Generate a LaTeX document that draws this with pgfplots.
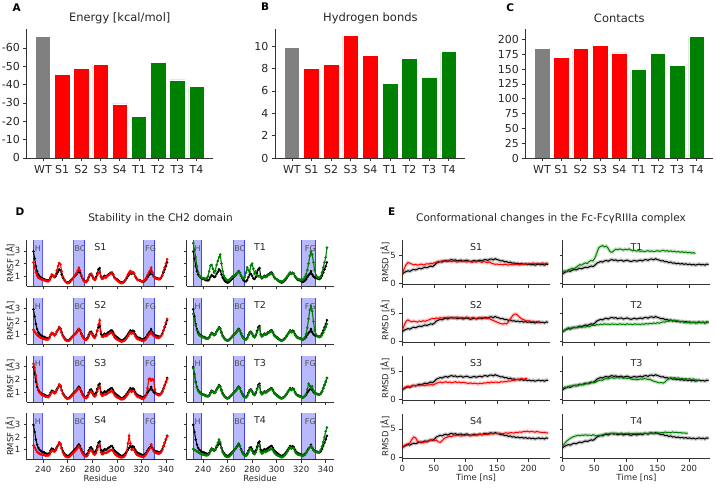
\documentclass[border=0pt]{standalone}
\usepackage{fontspec}
\setmainfont{DejaVu Sans}
\usepackage{pgfplots}
\usepackage{pgfplotstable}
\pgfplotsset{compat=1.18}
\definecolor{mgray}{HTML}{808080}
\definecolor{mred}{HTML}{FF0000}
\definecolor{mgreen}{HTML}{008000}
\definecolor{txt}{HTML}{262626}

\pgfplotstableread{
r WT S1 S2 S3 S4 T1 T2 T3 T4
232 2.95 2.10 1.35 3.20 1.35 3.60 2.60 2.85 1.05
233 2.40 1.70 1.20 2.90 1.20 3.10 2.20 2.35 1.00
234 1.80 1.30 1.05 2.30 1.00 2.50 1.70 1.75 0.95
235 1.40 1.05 0.95 1.60 0.85 1.80 1.30 1.35 0.88
236 1.15 0.90 0.85 1.20 0.75 1.30 1.05 1.10 0.80
237 1.00 0.85 0.78 0.95 0.70 1.05 0.92 0.95 0.75
238 0.92 0.80 0.72 0.85 0.65 0.95 0.85 0.88 0.70
239 0.85 0.75 0.68 0.78 0.62 0.90 0.80 0.82 0.66
240 0.80 0.72 0.65 0.72 0.60 0.85 0.75 0.78 0.62
241 0.78 0.70 0.62 0.70 0.58 0.85 0.72 0.75 0.60
242 0.72 0.65 0.60 0.65 0.55 0.82 0.68 0.70 0.58
243 0.70 0.62 0.58 0.62 0.55 0.85 0.65 0.68 0.56
244 0.68 0.62 0.60 0.60 0.55 1.00 0.65 0.66 0.58
245 0.75 0.70 0.70 0.68 0.62 1.40 0.75 0.72 0.68
246 0.95 0.90 0.95 0.85 0.80 1.85 0.95 0.90 0.90
247 1.10 1.15 1.10 1.00 0.95 1.90 1.05 1.05 1.05
248 1.05 1.05 1.00 0.98 0.92 1.60 1.00 1.00 1.00
249 0.95 0.95 0.90 0.90 0.85 1.30 0.92 0.92 0.92
250 1.00 1.10 1.00 0.95 0.95 1.45 1.00 0.98 1.05
251 1.20 1.45 1.20 1.15 1.15 1.90 1.20 1.18 1.30
252 1.35 1.80 1.35 1.35 1.35 2.20 1.35 1.32 1.55
253 1.55 2.05 1.55 1.60 1.58 2.50 1.50 1.50 1.80
254 1.45 1.95 1.40 1.50 1.45 2.70 1.40 1.40 1.60
255 1.15 1.40 1.10 1.15 1.10 2.00 1.10 1.10 1.15
256 0.90 1.00 0.85 0.88 0.80 1.40 0.85 0.85 0.82
257 0.75 0.75 0.68 0.70 0.62 1.05 0.70 0.70 0.65
258 0.62 0.60 0.55 0.58 0.50 0.85 0.58 0.58 0.52
259 0.55 0.50 0.50 0.50 0.45 0.75 0.52 0.52 0.46
260 0.52 0.48 0.48 0.48 0.42 0.70 0.50 0.50 0.44
261 0.55 0.50 0.50 0.50 0.45 0.72 0.52 0.52 0.46
262 0.65 0.60 0.60 0.58 0.52 0.80 0.62 0.62 0.55
263 0.75 0.72 0.72 0.68 0.62 0.90 0.72 0.72 0.65
264 0.85 0.85 0.82 0.78 0.72 1.00 0.82 0.82 0.78
265 0.95 0.95 0.92 0.88 0.82 1.05 0.92 0.92 0.90
266 1.05 1.10 1.00 0.98 0.92 1.10 1.02 1.02 1.05
267 1.15 1.25 1.10 1.08 1.02 1.20 1.12 1.12 1.20
268 1.30 1.45 1.25 1.20 1.15 1.30 1.25 1.25 1.35
269 1.42 1.68 1.40 1.32 1.28 1.35 1.35 1.38 1.50
270 1.30 1.45 1.25 1.20 1.15 1.25 1.25 1.25 1.30
271 1.05 1.10 1.00 0.98 0.92 1.05 1.00 1.00 1.00
272 0.85 0.85 0.80 0.78 0.72 0.90 0.80 0.80 0.78
273 0.70 0.65 0.65 0.62 0.58 0.85 0.68 0.66 0.62
274 0.62 0.58 0.58 0.55 0.50 0.95 0.60 0.60 0.55
275 0.60 0.55 0.55 0.52 0.48 1.30 0.58 0.58 0.52
276 0.72 0.68 0.65 0.62 0.55 1.70 0.70 0.70 0.62
277 0.95 0.90 0.85 0.82 0.75 1.50 0.90 0.92 0.82
278 1.15 1.10 1.05 1.00 0.92 1.35 1.10 1.10 1.00
279 1.20 1.20 1.10 1.05 0.98 1.85 1.15 1.15 1.05
280 1.05 1.00 0.95 0.90 0.85 2.00 1.00 1.00 0.90
281 0.85 0.80 0.78 0.72 0.68 1.60 0.82 0.82 0.72
282 0.80 0.72 0.72 0.65 0.62 1.20 0.75 0.76 0.66
283 0.95 0.85 0.90 0.78 0.75 1.40 0.90 0.90 0.80
284 1.25 1.10 1.30 1.05 1.00 1.10 1.15 1.20 1.05
285 1.55 1.25 1.75 1.30 1.25 1.00 1.40 1.45 1.30
286 1.65 1.35 2.10 1.40 1.35 1.05 1.50 1.50 1.35
287 1.00 0.95 1.20 0.85 0.80 0.95 0.95 0.95 0.85
288 0.85 0.80 0.80 0.70 0.65 0.90 0.82 0.82 0.70
289 0.95 0.85 0.80 0.75 0.70 0.95 0.90 0.90 0.78
290 1.05 0.95 0.90 0.85 0.80 1.00 1.00 1.00 0.88
291 1.00 0.90 0.85 0.80 0.75 0.95 0.95 0.95 0.82
292 1.05 1.00 0.90 0.85 0.80 1.00 1.00 1.00 0.88
293 1.15 1.10 1.00 0.95 0.88 1.10 1.10 1.10 0.95
294 1.20 1.15 1.05 1.00 0.92 1.15 1.15 1.15 1.00
295 1.28 1.20 1.10 1.05 0.98 1.20 1.22 1.22 1.05
296 1.30 1.25 1.10 1.08 1.00 1.22 1.25 1.25 1.08
297 1.15 1.10 0.95 0.95 0.88 1.10 1.10 1.10 0.95
298 0.95 0.90 0.78 0.78 0.72 0.92 0.90 0.90 0.78
299 0.85 0.80 0.68 0.68 0.62 0.82 0.80 0.80 0.68
300 0.78 0.70 0.60 0.60 0.55 0.75 0.72 0.72 0.60
301 0.70 0.62 0.55 0.55 0.50 0.70 0.65 0.65 0.55
302 0.62 0.55 0.50 0.50 0.45 0.65 0.58 0.58 0.50
303 0.55 0.50 0.45 0.45 0.42 0.62 0.52 0.52 0.45
304 0.52 0.48 0.42 0.42 0.40 0.60 0.50 0.50 0.42
305 0.55 0.50 0.45 0.45 0.42 0.62 0.52 0.52 0.45
306 0.62 0.60 0.50 0.50 0.48 0.70 0.60 0.60 0.52
307 0.72 0.75 0.58 0.60 0.60 0.80 0.70 0.70 0.62
308 0.85 0.95 0.70 0.72 0.90 0.92 0.82 0.82 0.75
309 1.00 1.15 0.85 0.85 1.50 1.05 0.98 0.98 0.90
310 1.15 1.30 1.00 1.00 2.10 1.20 1.12 1.12 1.05
311 1.30 1.42 1.15 1.12 1.50 1.30 1.25 1.25 1.20
312 1.20 1.30 1.05 1.02 1.00 1.22 1.15 1.15 1.10
313 1.28 1.35 1.10 1.10 1.05 1.28 1.22 1.22 1.15
314 1.22 1.25 1.05 1.05 1.00 1.20 1.15 1.18 1.10
315 1.00 1.00 0.85 0.85 0.80 1.00 0.95 0.95 0.88
316 0.85 0.82 0.70 0.70 0.65 0.88 0.80 0.80 0.72
317 0.75 0.72 0.62 0.62 0.58 0.80 0.72 0.72 0.65
318 0.72 0.70 0.60 0.60 0.55 0.78 0.70 0.68 0.62
319 0.68 0.68 0.55 0.55 0.50 0.75 0.65 0.64 0.58
320 0.62 0.62 0.50 0.50 0.48 0.72 0.60 0.60 0.55
321 0.58 0.60 0.48 0.48 0.45 0.72 0.58 0.56 0.52
322 0.60 0.65 0.50 0.50 0.48 0.80 0.62 0.60 0.55
323 0.68 0.75 0.55 0.60 0.55 0.95 0.75 0.70 0.62
324 0.78 0.90 0.65 0.80 0.68 1.15 1.00 0.85 0.75
325 0.95 1.10 0.80 1.30 0.85 1.50 1.50 1.20 0.92
326 1.10 1.30 0.95 2.00 1.00 2.00 2.20 1.65 1.10
327 1.20 1.45 1.05 2.05 1.15 2.60 2.90 1.50 1.20
328 1.40 1.68 1.15 1.90 1.40 2.95 3.20 1.30 1.30
329 1.15 1.30 1.00 2.00 1.10 2.70 2.80 1.45 1.15
330 1.00 1.05 0.88 1.95 0.90 2.10 2.00 1.10 0.98
331 0.92 0.90 0.80 1.20 0.80 1.50 1.30 0.92 0.88
332 0.88 0.82 0.75 0.85 0.75 1.10 1.00 0.85 0.82
333 0.85 0.80 0.72 0.78 0.72 0.95 0.85 0.82 0.80
334 0.82 0.78 0.72 0.75 0.70 0.90 0.80 0.80 0.80
335 0.80 0.80 0.75 0.75 0.72 0.90 0.78 0.80 0.85
336 0.88 0.90 0.85 0.85 0.80 1.00 0.82 0.88 1.00
337 1.05 1.10 1.00 1.00 0.98 1.30 0.95 1.05 1.25
338 1.30 1.40 1.30 1.25 1.25 1.70 1.15 1.30 1.60
339 1.55 1.70 1.60 1.50 1.55 2.10 1.35 1.55 2.00
340 1.80 2.00 1.90 1.75 1.85 2.50 1.55 1.80 2.45
341 2.10 2.35 2.20 2.00 2.05 3.25 1.80 2.10 2.75
}\rmsf

\pgfplotstableread{
t WT S1 S2 S3 S4 T1 T2 T3 T4
0 1.65 1.60 1.90 1.75 1.80 2.00 1.55 2.00 1.90
3 1.90 2.60 2.80 2.00 2.00 2.20 1.90 2.15 2.40
6 2.05 3.30 3.50 2.20 2.20 2.10 2.15 2.10 2.80
9 2.20 3.70 3.75 2.30 2.35 2.35 2.35 2.25 3.05
12 2.10 3.55 3.55 2.20 2.50 2.50 2.25 2.35 3.30
15 2.30 3.40 3.40 2.35 3.10 2.65 2.40 2.30 3.50
18 2.45 3.25 3.55 2.45 3.55 2.55 2.30 2.45 3.65
21 2.35 3.35 3.45 2.35 3.40 2.80 2.45 2.50 3.75
24 2.50 3.20 3.35 2.50 2.80 3.05 2.35 2.40 3.85
27 2.65 3.30 3.55 2.40 2.60 3.30 2.50 2.55 3.80
30 2.55 3.40 3.45 2.55 2.70 3.20 2.40 2.65 3.90
33 2.70 3.25 3.60 2.45 2.55 3.45 2.55 2.55 3.85
36 2.85 3.35 3.50 2.40 2.70 3.60 2.45 2.70 3.95
39 2.75 3.45 3.65 2.55 2.65 3.50 2.60 2.80 3.85
42 2.90 3.40 3.75 2.50 2.85 3.85 2.50 2.75 3.90
45 3.05 3.55 3.90 2.60 2.95 4.05 2.70 2.90 3.80
48 2.95 3.50 4.00 2.50 3.05 3.95 2.80 3.00 3.95
51 3.20 3.65 3.95 2.65 2.90 4.50 2.75 2.95 3.85
54 3.55 3.75 4.10 2.80 3.00 5.40 2.90 3.15 3.75
57 3.70 3.90 4.00 2.95 2.70 6.30 2.85 3.30 3.85
60 3.85 3.80 4.15 3.05 2.60 6.55 3.00 3.40 3.80
63 3.75 4.00 4.05 2.90 2.90 6.70 2.90 3.35 3.95
66 3.95 3.95 4.20 3.00 3.25 6.45 3.05 3.55 4.05
69 4.05 3.85 4.10 3.10 3.45 6.60 2.95 3.65 4.15
72 3.90 4.00 4.25 2.95 3.55 6.20 3.00 3.60 4.10
75 4.10 3.90 4.15 3.05 3.70 5.60 2.90 3.75 4.20
78 4.20 3.80 4.05 2.90 3.60 5.50 3.05 3.85 4.15
81 4.05 3.95 4.20 3.00 3.80 5.80 2.95 3.70 4.25
84 4.15 3.85 4.10 3.10 3.75 6.05 3.00 3.80 4.15
87 3.95 3.75 4.25 2.95 3.90 5.95 2.90 3.90 4.20
90 4.05 3.90 4.15 3.05 3.80 6.10 3.05 3.75 4.10
93 4.10 3.80 4.05 2.90 3.70 6.00 2.95 3.85 4.25
96 3.90 3.95 4.20 3.00 3.85 5.90 3.00 3.70 4.15
99 4.00 3.85 4.10 2.95 3.80 6.05 2.90 3.80 4.20
102 4.10 3.75 4.25 2.85 3.90 5.95 3.05 3.65 4.10
105 3.95 3.90 4.15 2.80 3.85 6.10 2.95 3.75 4.25
108 3.85 3.80 4.05 2.90 3.75 5.90 3.00 3.60 4.15
111 3.95 3.70 4.20 2.75 3.90 5.75 2.90 3.50 4.20
114 4.05 3.85 4.10 2.85 3.85 5.85 3.05 3.55 4.10
117 3.90 3.75 4.00 2.80 3.95 5.70 2.95 3.45 4.25
120 4.00 3.90 4.15 2.70 3.90 5.80 3.00 3.50 4.15
123 4.10 3.80 4.05 2.85 4.00 5.65 2.90 3.60 4.20
126 3.95 3.70 4.20 2.75 3.95 5.75 3.05 3.55 4.10
129 4.15 3.85 4.10 2.90 4.05 5.60 2.95 3.65 4.25
132 4.20 3.75 4.00 2.85 4.00 5.70 3.10 3.60 4.20
135 4.05 3.65 4.15 3.00 4.10 5.80 3.00 3.50 4.15
138 4.25 3.80 3.95 2.90 4.05 5.65 3.15 3.55 4.30
141 4.30 3.55 3.80 3.05 4.15 5.75 3.05 3.35 4.20
144 4.15 3.45 3.65 2.95 4.10 5.60 3.20 3.20 4.25
147 4.35 3.35 3.50 3.05 4.20 5.70 3.10 3.10 4.15
150 4.20 3.40 3.35 3.00 4.15 5.80 3.25 3.00 4.30
153 4.10 3.30 3.20 2.95 4.25 5.65 3.15 2.90 4.25
156 3.95 3.35 3.10 3.10 4.20 5.75 3.30 2.95 4.35
159 4.00 3.25 3.00 3.05 4.10 5.85 3.40 2.85 4.30
162 3.80 3.35 3.15 3.15 4.25 5.70 3.35 3.05 4.45
165 3.85 3.30 3.05 3.10 4.30 5.80 3.55 3.40 4.35
168 3.65 3.20 3.40 3.25 4.20 5.65 3.50 3.65 4.40
171 3.75 3.35 3.90 3.20 4.35 5.75 3.65 3.80 4.30
174 3.55 3.25 4.40 3.35 4.30 5.60 3.55 3.75 4.45
177 3.60 3.30 4.75 3.30 4.25 5.70 3.70 3.85 4.35
180 3.45 3.40 4.80 3.50 4.40 5.55 3.60 3.70 4.40
183 3.55 3.30 4.55 3.45 4.35 5.65 3.50 3.80 4.30
186 3.40 3.25 4.20 3.60 4.45 5.50 3.40 3.65 4.35
189 3.50 3.40 3.95 3.70 4.40 5.60 3.45 3.70 4.25
192 3.35 3.35 3.80 3.55 4.55 5.45 3.35 3.60 4.30
195 3.45 3.45 3.65 3.65 4.50 5.55 3.25 3.65 4.20
198 3.30 3.40 3.55 3.75 4.60 5.40 3.35 3.55 4.25
201 3.40 3.50 3.60 nan 4.45 5.50 3.20 3.65 nan
204 3.25 3.45 3.45 nan 4.55 5.35 3.30 3.50 nan
207 3.35 3.60 3.50 nan 4.50 5.45 3.25 3.60 nan
210 3.20 3.50 3.40 nan 4.40 5.25 3.35 3.45 nan
213 3.30 3.55 3.45 nan 4.55 nan 3.20 3.40 nan
216 3.40 3.45 3.35 nan 4.45 nan 3.30 3.30 nan
219 3.25 3.50 3.40 nan 4.40 nan 3.25 nan nan
222 3.35 3.60 nan nan 4.35 nan 3.35 nan nan
225 3.20 3.45 nan nan 4.40 nan 3.20 nan nan
228 3.40 3.55 nan nan 4.30 nan 3.30 nan nan
231 3.30 3.50 nan nan 4.25 nan 3.25 nan nan
}\rmsd

\pgfplotsset{
  base/.style={scale only axis, axis lines=left,
    axis line style={-, line width=0.7pt, black!80},
    tick align=outside, major tick length=3pt,
    tick style={line width=0.7pt, black!80},
    /pgf/number format/assume math mode=true,
    ticklabel style={text=txt}, label style={text=txt}},
  bars/.style={base, height=128.5pt, ymin=0, xmin=-0.84, xmax=8.84,
    xtick={0,...,8}, xticklabels={WT,S1,S2,S3,S4,T1,T2,T3,T4},
    major tick length=3.5pt,
    ticklabel style={font=\fontsize{11}{13}\selectfont},
    title style={at={(axis description cs:0.5,1)}, anchor=center, yshift=5pt,
      font=\fontsize{11.5}{13}\selectfont, text=txt}},
  barst/.style={ybar, bar width=0.8, bar shift=0pt, draw=white, line width=0.5pt},
  dbase/.style={base, width=147.2pt, height=46.4pt, xmin=226.5, xmax=346.5,
    ymin=0.22, ymax=3.85, xtick={240,260,280,300,320,340}, ytick={1,2,3},
    xticklabels={},
    ticklabel style={font=\fontsize{8.5}{10}\selectfont},
    label style={font=\fontsize{8.5}{10}\selectfont},
    title style={at={(axis description cs:0.5,0.85)}, anchor=center, yshift=-6pt,
      font=\fontsize{9.5}{11}\selectfont, text=txt}},
  dleft/.style={ylabel={RMSF [Å]}, ylabel style={at={(axis description cs:-0.114,0.5)}, anchor=center}},
  dright/.style={yticklabels={}},
  dbottom/.style={xticklabels={240,260,280,300,320,340}, xlabel={Residue},
    xlabel style={at={(axis description cs:0.5,-0.41)}, anchor=center}},
  ebase/.style={base, width=147.5pt, height=44.3pt, xmin=0, xmax=233.5,
    ymin=-0.3, ymax=7.6, xtick={0,50,100,150,200}, ytick={0,5},
    xticklabels={},
    ticklabel style={font=\fontsize{8.5}{10}\selectfont},
    label style={font=\fontsize{8.5}{10}\selectfont},
    title style={at={(axis description cs:0.5,0.85)}, anchor=center, yshift=-6pt,
      font=\fontsize{9.5}{11}\selectfont, text=txt}},
  eleft/.style={ylabel={RMSD [Å]}, ylabel style={at={(axis description cs:-0.117,0.5)}, anchor=center}},
  eright/.style={yticklabels={}},
  ebottom/.style={xticklabels={0,50,100,150,200}, xlabel={Time [ns]},
    xlabel style={at={(axis description cs:0.5,-0.44)}, anchor=center}},
  wtl/.style={black, line width=1pt, mark=*, mark size=0.7pt},
  mutl/.style={line width=1.1pt, mark=*, mark size=0.7pt},
  shade/.style={line width=3.6pt, opacity=0.22},
  thin/.style={line width=1pt},
}
\tikzset{
  bandfill/.style={fill=blue, fill opacity=0.28},
  bandedge/.style={draw=blue, draw opacity=0.65, line width=1pt},
  blab/.style={font=\fontsize{8}{9}\selectfont, text=txt!80},
}
\newcommand\bands[2]{%
  \fill[bandfill] (axis cs:232,0.22) rectangle (axis cs:239,3.85);
  \fill[bandfill] (axis cs:265,0.22) rectangle (axis cs:274,3.85);
  \fill[bandfill] (axis cs:#1,0.22) rectangle (axis cs:#2,3.85);
  \draw[bandedge] (axis cs:232,0.22) -- (axis cs:232,3.85);
  \draw[bandedge] (axis cs:239,0.22) -- (axis cs:239,3.85);
  \draw[bandedge] (axis cs:265,0.22) -- (axis cs:265,3.85);
  \draw[bandedge] (axis cs:274,0.22) -- (axis cs:274,3.85);
  \draw[bandedge] (axis cs:#1,0.22) -- (axis cs:#1,3.85);
  \draw[bandedge] (axis cs:#2,0.22) -- (axis cs:#2,3.85);
  \node[blab] at (axis cs:235.6,3.2) {H};
  \node[blab] at (axis cs:270,3.2) {BC};
  \node[blab] at (axis cs:327.5,3.2) {FG};
}

\begin{document}
\begin{tikzpicture}
\path[use as bounding box] (0pt,0pt) rectangle (716pt,488pt);

% ---------- top bar charts ----------
\node[font=\bfseries\fontsize{10.5}{12}\selectfont, text=black] at (16.7pt,480.5pt) {A};
\node[font=\bfseries\fontsize{10.5}{12}\selectfont, text=black] at (265pt,481pt) {B};
\node[font=\bfseries\fontsize{10.5}{12}\selectfont, text=black] at (510.3pt,480.5pt) {C};

\begin{axis}[bars, at={(26.8pt,458.5pt)}, anchor=north west, width=185.9pt,
  ymax=70, ytick={0,10,...,60}, yticklabels={0,-10,-20,-30,-40,-50,-60},
  title={Energy [kcal/mol]}]
\addplot[barst, fill=mgray] coordinates {(0,66.4)};
\addplot[barst, fill=mred] coordinates {(1,45.7) (2,48.8) (3,51.1) (4,29.5)};
\addplot[barst, fill=mgreen] coordinates {(5,22.6) (6,51.9) (7,42.5) (8,38.9)};
\end{axis}

\begin{axis}[bars, at={(275.4pt,458.5pt)}, anchor=north west, width=189.9pt,
  ymax=11.5, ytick={0,2,...,10}, title={Hydrogen bonds}]
\addplot[barst, fill=mgray] coordinates {(0,9.91)};
\addplot[barst, fill=mred] coordinates {(1,8.0) (2,8.39) (3,10.96) (4,9.19)};
\addplot[barst, fill=mgreen] coordinates {(5,6.69) (6,8.9) (7,7.22) (8,9.52)};
\end{axis}

\begin{axis}[bars, at={(525.8pt,458.5pt)}, anchor=north west, width=187.1pt,
  ymax=217, ytick={0,25,...,200}, title={Contacts}]
\addplot[barst, fill=mgray] coordinates {(0,184.9)};
\addplot[barst, fill=mred] coordinates {(1,169.7) (2,184.9) (3,190.5) (4,177.6)};
\addplot[barst, fill=mgreen] coordinates {(5,149.6) (6,176.5) (7,156.3) (8,205.6)};
\end{axis}

% ---------- D ----------
\node[font=\bfseries\fontsize{10.5}{12}\selectfont] at (20pt,276.3pt) {D};
\node[font=\fontsize{10.5}{12}\selectfont, text=txt] at (160.5pt,269pt) {Stability in the CH2 domain};

\begin{axis}[dbase, dleft, at={(26.7pt,248pt)}, anchor=north west, title={S1}]
\bands{322}{331}
\addplot[wtl] table[x=r,y=WT]{\rmsf};
\addplot[mutl, mred] table[x=r,y=S1]{\rmsf};
\end{axis}
\begin{axis}[dbase, dleft, at={(26.7pt,190.2pt)}, anchor=north west, title={S2}]
\bands{322}{331}
\addplot[wtl] table[x=r,y=WT]{\rmsf};
\addplot[mutl, mred] table[x=r,y=S2]{\rmsf};
\end{axis}
\begin{axis}[dbase, dleft, at={(26.7pt,132.4pt)}, anchor=north west, title={S3}]
\bands{322}{331}
\addplot[wtl] table[x=r,y=WT]{\rmsf};
\addplot[mutl, mred] table[x=r,y=S3]{\rmsf};
\end{axis}
\begin{axis}[dbase, dleft, dbottom, at={(26.7pt,74.6pt)}, anchor=north west, title={S4}]
\bands{322}{331}
\addplot[wtl] table[x=r,y=WT]{\rmsf};
\addplot[mutl, mred] table[x=r,y=S4]{\rmsf};
\end{axis}

\begin{axis}[dbase, dright, at={(186.5pt,248pt)}, anchor=north west, title={T1}]
\bands{320}{332}
\addplot[wtl] table[x=r,y=WT]{\rmsf};
\addplot[mutl, mgreen] table[x=r,y=T1]{\rmsf};
\end{axis}
\begin{axis}[dbase, dright, at={(186.5pt,190.2pt)}, anchor=north west, title={T2}]
\bands{320}{332}
\addplot[wtl] table[x=r,y=WT]{\rmsf};
\addplot[mutl, mgreen] table[x=r,y=T2]{\rmsf};
\end{axis}
\begin{axis}[dbase, dright, at={(186.5pt,132.4pt)}, anchor=north west, title={T3}]
\bands{320}{332}
\addplot[wtl] table[x=r,y=WT]{\rmsf};
\addplot[mutl, mgreen] table[x=r,y=T3]{\rmsf};
\end{axis}
\begin{axis}[dbase, dright, dbottom, at={(186.5pt,74.6pt)}, anchor=north west, title={T4}]
\bands{320}{332}
\addplot[wtl] table[x=r,y=WT]{\rmsf};
\addplot[mutl, mgreen] table[x=r,y=T4]{\rmsf};
\end{axis}

% ---------- E ----------
\node[font=\bfseries\fontsize{10.5}{12}\selectfont] at (391.7pt,276.3pt) {E};
\node[font=\fontsize{10.5}{12}\selectfont, text=txt] at (551pt,269pt) {Conformational changes in the Fc-FcγRIIIa complex};

\begin{axis}[ebase, eleft, at={(402.3pt,247.5pt)}, anchor=north west, title={S1}]
\addplot[shade, black] table[x=t,y=WT]{\rmsd};
\addplot[shade, mred] table[x=t,y=S1]{\rmsd};
\addplot[thin, black] table[x=t,y=WT]{\rmsd};
\addplot[thin, mred] table[x=t,y=S1]{\rmsd};
\end{axis}
\begin{axis}[ebase, eleft, at={(402.3pt,189.7pt)}, anchor=north west, title={S2}]
\addplot[shade, black] table[x=t,y=WT]{\rmsd};
\addplot[shade, mred] table[x=t,y=S2]{\rmsd};
\addplot[thin, black] table[x=t,y=WT]{\rmsd};
\addplot[thin, mred] table[x=t,y=S2]{\rmsd};
\end{axis}
\begin{axis}[ebase, eleft, at={(402.3pt,131.5pt)}, anchor=north west, title={S3}]
\addplot[shade, black] table[x=t,y=WT]{\rmsd};
\addplot[shade, mred] table[x=t,y=S3]{\rmsd};
\addplot[thin, black] table[x=t,y=WT]{\rmsd};
\addplot[thin, mred] table[x=t,y=S3]{\rmsd};
\end{axis}
\begin{axis}[ebase, eleft, ebottom, at={(402.3pt,73.7pt)}, anchor=north west, title={S4}]
\addplot[shade, black] table[x=t,y=WT]{\rmsd};
\addplot[shade, mred] table[x=t,y=S4]{\rmsd};
\addplot[thin, black] table[x=t,y=WT]{\rmsd};
\addplot[thin, mred] table[x=t,y=S4]{\rmsd};
\end{axis}

\begin{axis}[ebase, eright, at={(562.7pt,247.5pt)}, anchor=north west, title={T1}]
\addplot[shade, black] table[x=t,y=WT]{\rmsd};
\addplot[shade, mgreen] table[x=t,y=T1]{\rmsd};
\addplot[thin, black] table[x=t,y=WT]{\rmsd};
\addplot[thin, mgreen] table[x=t,y=T1]{\rmsd};
\end{axis}
\begin{axis}[ebase, eright, at={(562.7pt,189.7pt)}, anchor=north west, title={T2}]
\addplot[shade, black] table[x=t,y=WT]{\rmsd};
\addplot[shade, mgreen] table[x=t,y=T2]{\rmsd};
\addplot[thin, black] table[x=t,y=WT]{\rmsd};
\addplot[thin, mgreen] table[x=t,y=T2]{\rmsd};
\end{axis}
\begin{axis}[ebase, eright, at={(562.7pt,131.5pt)}, anchor=north west, title={T3}]
\addplot[shade, black] table[x=t,y=WT]{\rmsd};
\addplot[shade, mgreen] table[x=t,y=T3]{\rmsd};
\addplot[thin, black] table[x=t,y=WT]{\rmsd};
\addplot[thin, mgreen] table[x=t,y=T3]{\rmsd};
\end{axis}
\begin{axis}[ebase, eright, ebottom, at={(562.7pt,73.7pt)}, anchor=north west, title={T4}]
\addplot[shade, black] table[x=t,y=WT]{\rmsd};
\addplot[shade, mgreen] table[x=t,y=T4]{\rmsd};
\addplot[thin, black] table[x=t,y=WT]{\rmsd};
\addplot[thin, mgreen] table[x=t,y=T4]{\rmsd};
\end{axis}
\end{tikzpicture}
\end{document}
